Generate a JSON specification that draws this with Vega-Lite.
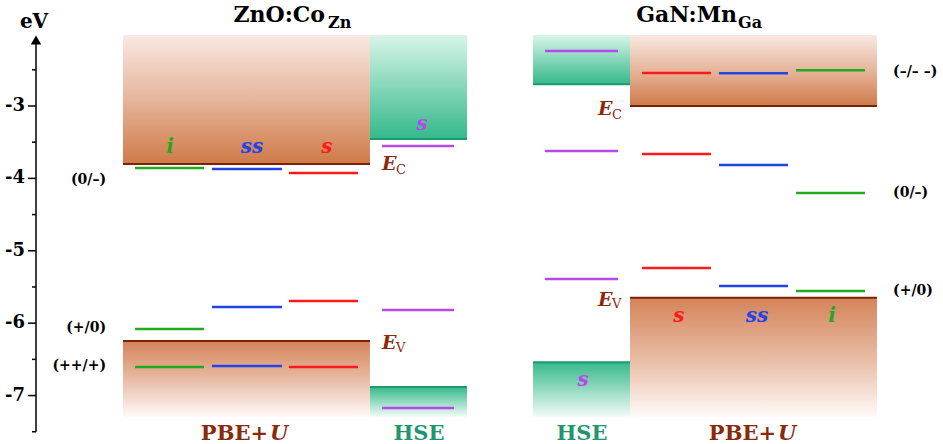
{
  "$schema": "https://vega.github.io/schema/vega-lite/v6.json",
  "width": 907,
  "height": 444,
  "autosize": {"type": "none"},
  "padding": {"left": 36, "top": 0, "right": 0, "bottom": 0},
  "background": "white",
  "config": {"view": {"stroke": null}, "font": "DejaVu Serif"},
  "datasets": {
    "boxes": [
      {"method": "pbe", "band": "up", "x1": 9.59, "x2": 36.82, "top": -2.02, "bot": -3.80},
      {"method": "pbe", "band": "low", "x1": 9.59, "x2": 36.82, "top": -6.246, "bot": -7.296},
      {"method": "hse", "band": "up", "x1": 36.82, "x2": 47.52, "top": -2.02, "bot": -3.456},
      {"method": "hse", "band": "low", "x1": 36.82, "x2": 47.52, "top": -6.88, "bot": -7.296},
      {"method": "hse", "band": "up", "x1": 54.80, "x2": 65.49, "top": -2.02, "bot": -2.70},
      {"method": "hse", "band": "low", "x1": 54.80, "x2": 65.49, "top": -6.54, "bot": -7.296},
      {"method": "pbe", "band": "up", "x1": 65.49, "x2": 92.72, "top": -2.02, "bot": -3.0},
      {"method": "pbe", "band": "low", "x1": 65.49, "x2": 92.72, "top": -5.65, "bot": -7.296}
    ],
    "levels": [
      {"series": "i", "x1": 10.92, "x2": 18.52, "e": -3.856},
      {"series": "i", "x1": 10.92, "x2": 18.52, "e": -6.080},
      {"series": "i", "x1": 10.92, "x2": 18.52, "e": -6.605},
      {"series": "ss", "x1": 19.40, "x2": 27.12, "e": -3.870},
      {"series": "ss", "x1": 19.40, "x2": 27.12, "e": -5.776},
      {"series": "ss", "x1": 19.40, "x2": 27.12, "e": -6.591},
      {"series": "s", "x1": 27.89, "x2": 35.50, "e": -3.925},
      {"series": "s", "x1": 27.89, "x2": 35.50, "e": -5.693},
      {"series": "s", "x1": 27.89, "x2": 35.50, "e": -6.605},
      {"series": "hse", "x1": 38.15, "x2": 46.09, "e": -3.552},
      {"series": "hse", "x1": 38.15, "x2": 46.09, "e": -5.818},
      {"series": "hse", "x1": 38.15, "x2": 46.09, "e": -7.171},
      {"series": "hse", "x1": 56.12, "x2": 64.17, "e": -2.240},
      {"series": "hse", "x1": 56.12, "x2": 64.17, "e": -3.622},
      {"series": "hse", "x1": 56.12, "x2": 64.17, "e": -5.390},
      {"series": "s", "x1": 66.81, "x2": 74.42, "e": -2.544},
      {"series": "s", "x1": 66.81, "x2": 74.42, "e": -3.663},
      {"series": "s", "x1": 66.81, "x2": 74.42, "e": -5.238},
      {"series": "ss", "x1": 75.30, "x2": 82.91, "e": -2.548},
      {"series": "ss", "x1": 75.30, "x2": 82.91, "e": -3.815},
      {"series": "ss", "x1": 75.30, "x2": 82.91, "e": -5.486},
      {"series": "i", "x1": 83.79, "x2": 91.40, "e": -2.507},
      {"series": "i", "x1": 83.79, "x2": 91.40, "e": -4.202},
      {"series": "i", "x1": 83.79, "x2": 91.40, "e": -5.555}
    ],
    "levelLabels": [
      {"series": "i", "t": "i", "x": 14.77, "y": -3.649},
      {"series": "ss", "t": "ss", "x": 23.81, "y": -3.649},
      {"series": "s", "t": "s", "x": 32.08, "y": -3.649},
      {"series": "hse", "t": "s", "x": 42.56, "y": -3.331},
      {"series": "hse", "t": "s", "x": 60.31, "y": -6.867},
      {"series": "s", "t": "s", "x": 70.89, "y": -5.983},
      {"series": "ss", "t": "ss", "x": 79.49, "y": -5.983},
      {"series": "i", "t": "i", "x": 87.76, "y": -5.983}
    ],
    "chargeLeft": [
      {"t": "(0/–)", "x": 7.72, "y": -4.022},
      {"t": "(+/0)", "x": 7.72, "y": -6.066},
      {"t": "(++/+)", "x": 7.72, "y": -6.591}
    ],
    "chargeRight": [
      {"t": "(–/– –)", "x": 94.49, "y": -2.530},
      {"t": "(0/–)", "x": 94.49, "y": -4.202},
      {"t": "(+/0)", "x": 94.49, "y": -5.555}
    ],
    "titles": [
      {"t": "ZnO:Co", "x": 31.86, "y": -1.84},
      {"t": "GaN:Mn", "x": 77.29, "y": -1.84}
    ],
    "titleSubs": [
      {"t": "Zn", "x": 32.19, "y": -1.923},
      {"t": "Ga", "x": 77.40, "y": -1.923}
    ],
    "eLabels": [
      {"t": "E", "x": 38.15, "y": -3.884},
      {"t": "E", "x": 38.15, "y": -6.356},
      {"t": "E", "x": 61.96, "y": -3.124},
      {"t": "E", "x": 61.96, "y": -5.762}
    ],
    "eSubs": [
      {"t": "C", "x": 39.69, "y": -3.939},
      {"t": "V", "x": 39.69, "y": -6.398},
      {"t": "C", "x": 63.51, "y": -3.180},
      {"t": "V", "x": 63.51, "y": -5.790}
    ],
    "pbe": [
      {"t": "PBE+", "x": 25.58, "y": -7.613},
      {"t": "PBE+", "x": 81.59, "y": -7.613}
    ],
    "pbeU": [
      {"t": "U", "x": 25.80, "y": -7.613},
      {"t": "U", "x": 81.81, "y": -7.613}
    ],
    "hseLabels": [
      {"t": "HSE", "x": 42.23, "y": -7.613},
      {"t": "HSE", "x": 60.20, "y": -7.613}
    ],
    "axisLine": [{"x": 0, "y1": -7.5, "y2": -2.1}],
    "majorTicks": [
      {"v": -7, "lab": "-7"}, {"v": -6, "lab": "-6"}, {"v": -5, "lab": "-5"}, {"v": -4, "lab": "-4"}, {"v": -3, "lab": "-3"}
    ],
    "minorTicks": [
      {"v": -7.5}, {"v": -6.5}, {"v": -5.5}, {"v": -4.5}, {"v": -3.5}, {"v": -2.5}
    ],
    "arrow": [{"x": 0, "y": -2.088}],
    "unit": [{"t": "eV", "x": -0.22, "y": -1.923}]
  },
  "layer": [
    {
      "data": {"name": "boxes"},
      "transform": [{"filter": "datum.method === 'pbe' && datum.band === 'up'"}],
      "mark": {"type": "rect", "fill": {"gradient": "linear", "x1": 0, "y1": 0, "x2": 0, "y2": 1, "stops": [{"offset": 0, "color": "#f8e9e2"}, {"offset": 0.5, "color": "#e6b59b"}, {"offset": 1, "color": "#cf7a48"}]}},
      "encoding": {
        "x": {"field": "x1", "type": "quantitative", "scale": {"domain": [0, 100]}, "axis": null},
        "x2": {"field": "x2"},
        "y": {"field": "top", "type": "quantitative", "scale": {"domain": [-7.669, -1.536]}, "axis": null},
        "y2": {"field": "bot"}
      }
    },
    {
      "data": {"name": "boxes"},
      "transform": [{"filter": "datum.method === 'pbe' && datum.band === 'low'"}],
      "mark": {"type": "rect", "fill": {"gradient": "linear", "x1": 0, "y1": 0, "x2": 0, "y2": 1, "stops": [{"offset": 0, "color": "#d4845a"}, {"offset": 0.5, "color": "#e8baa3"}, {"offset": 1, "color": "#fffaf8"}]}},
      "encoding": {
        "x": {"field": "x1", "type": "quantitative", "scale": {"domain": [0, 100]}, "axis": null},
        "x2": {"field": "x2"},
        "y": {"field": "top", "type": "quantitative", "scale": {"domain": [-7.669, -1.536]}, "axis": null},
        "y2": {"field": "bot"}
      }
    },
    {
      "data": {"name": "boxes"},
      "transform": [{"filter": "datum.method === 'hse' && datum.band === 'up'"}],
      "mark": {"type": "rect", "fill": {"gradient": "linear", "x1": 0, "y1": 0, "x2": 0, "y2": 1, "stops": [{"offset": 0, "color": "#d8f5ea"}, {"offset": 1, "color": "#33b98a"}]}},
      "encoding": {
        "x": {"field": "x1", "type": "quantitative", "scale": {"domain": [0, 100]}, "axis": null},
        "x2": {"field": "x2"},
        "y": {"field": "top", "type": "quantitative", "scale": {"domain": [-7.669, -1.536]}, "axis": null},
        "y2": {"field": "bot"}
      }
    },
    {
      "data": {"name": "boxes"},
      "transform": [{"filter": "datum.method === 'hse' && datum.band === 'low'"}],
      "mark": {"type": "rect", "fill": {"gradient": "linear", "x1": 0, "y1": 0, "x2": 0, "y2": 1, "stops": [{"offset": 0, "color": "#36b98b"}, {"offset": 1, "color": "#f2fcf8"}]}},
      "encoding": {
        "x": {"field": "x1", "type": "quantitative", "scale": {"domain": [0, 100]}, "axis": null},
        "x2": {"field": "x2"},
        "y": {"field": "top", "type": "quantitative", "scale": {"domain": [-7.669, -1.536]}, "axis": null},
        "y2": {"field": "bot"}
      }
    },
    {
      "data": {"name": "boxes"},
      "transform": [{"filter": "datum.band === 'up'"}],
      "mark": {"type": "rule", "strokeWidth": 2},
      "encoding": {
        "x": {"field": "x1", "type": "quantitative", "scale": {"domain": [0, 100]}, "axis": null},
        "x2": {"field": "x2"},
        "y": {"field": "bot", "type": "quantitative", "scale": {"domain": [-7.669, -1.536]}, "axis": null},
        "stroke": {"field": "method", "type": "nominal", "scale": {"domain": ["pbe", "hse"], "range": ["#7a2208", "#1e9a70"]}, "legend": null}
      }
    },
    {
      "data": {"name": "boxes"},
      "transform": [{"filter": "datum.band === 'low'"}],
      "mark": {"type": "rule", "strokeWidth": 2},
      "encoding": {
        "x": {"field": "x1", "type": "quantitative", "scale": {"domain": [0, 100]}, "axis": null},
        "x2": {"field": "x2"},
        "y": {"field": "top", "type": "quantitative", "scale": {"domain": [-7.669, -1.536]}, "axis": null},
        "stroke": {"field": "method", "type": "nominal", "scale": {"domain": ["pbe", "hse"], "range": ["#7a2208", "#1e9a70"]}, "legend": null}
      }
    },
    {
      "data": {"name": "levels"},
      "mark": {"type": "rule", "strokeWidth": 2.5},
      "encoding": {
        "x": {"field": "x1", "type": "quantitative", "scale": {"domain": [0, 100]}, "axis": null},
        "x2": {"field": "x2"},
        "y": {"field": "e", "type": "quantitative", "scale": {"domain": [-7.669, -1.536]}, "axis": null},
        "color": {"field": "series", "type": "nominal", "scale": {"domain": ["i", "ss", "s", "hse"], "range": ["#1faa1f", "#2244e6", "#ff1a1a", "#b64ae8"]}, "legend": null}
      }
    },
    {
      "data": {"name": "axisLine"},
      "mark": {"type": "rule", "strokeWidth": 1.5, "color": "black"},
      "encoding": {
        "x": {"field": "x", "type": "quantitative", "scale": {"domain": [0, 100]}, "axis": null},
        "y": {"field": "y1", "type": "quantitative", "scale": {"domain": [-7.669, -1.536]}, "axis": null},
        "y2": {"field": "y2"}
      }
    },
    {
      "data": {"name": "majorTicks"},
      "mark": {"type": "tick", "orient": "horizontal", "size": 8, "thickness": 1.5, "xOffset": -4, "color": "black", "opacity": 1},
      "encoding": {
        "x": {"datum": 0, "type": "quantitative", "scale": {"domain": [0, 100]}, "axis": null},
        "y": {"field": "v", "type": "quantitative", "scale": {"domain": [-7.669, -1.536]}, "axis": null}
      }
    },
    {
      "data": {"name": "minorTicks"},
      "mark": {"type": "tick", "orient": "horizontal", "size": 4, "thickness": 1.5, "xOffset": -2, "color": "black", "opacity": 1},
      "encoding": {
        "x": {"datum": 0, "type": "quantitative", "scale": {"domain": [0, 100]}, "axis": null},
        "y": {"field": "v", "type": "quantitative", "scale": {"domain": [-7.669, -1.536]}, "axis": null}
      }
    },
    {
      "data": {"name": "majorTicks"},
      "mark": {"type": "text", "font": "DejaVu Serif", "fontWeight": "bold", "fontSize": 18, "align": "right", "baseline": "middle", "dx": -11, "color": "black"},
      "encoding": {
        "x": {"datum": 0, "type": "quantitative", "scale": {"domain": [0, 100]}, "axis": null},
        "y": {"field": "v", "type": "quantitative", "scale": {"domain": [-7.669, -1.536]}, "axis": null},
        "text": {"field": "lab"}
      }
    },
    {
      "data": {"name": "arrow"},
      "mark": {"type": "point", "shape": "triangle-up", "filled": true, "color": "black", "size": 110, "opacity": 1},
      "encoding": {
        "x": {"field": "x", "type": "quantitative", "scale": {"domain": [0, 100]}, "axis": null},
        "y": {"field": "y", "type": "quantitative", "scale": {"domain": [-7.669, -1.536]}, "axis": null}
      }
    },
    {
      "data": {"name": "levelLabels"},
      "mark": {"type": "text", "font": "DejaVu Serif", "fontStyle": "italic", "fontWeight": "bold", "fontSize": 20, "align": "center", "baseline": "alphabetic"},
      "encoding": {
        "x": {"field": "x", "type": "quantitative", "scale": {"domain": [0, 100]}, "axis": null},
        "y": {"field": "y", "type": "quantitative", "scale": {"domain": [-7.669, -1.536]}, "axis": null},
        "text": {"field": "t"},
        "color": {"field": "series", "type": "nominal", "scale": {"domain": ["i", "ss", "s", "hse"], "range": ["#1faa1f", "#2244e6", "#ff1a1a", "#b64ae8"]}, "legend": null}
      }
    },
    {
      "data": {"name": "chargeLeft"},
      "mark": {"type": "text", "font": "DejaVu Serif", "fontWeight": "bold", "fontSize": 14, "align": "right", "baseline": "middle", "color": "black"},
      "encoding": {
        "x": {"field": "x", "type": "quantitative", "scale": {"domain": [0, 100]}, "axis": null},
        "y": {"field": "y", "type": "quantitative", "scale": {"domain": [-7.669, -1.536]}, "axis": null},
        "text": {"field": "t"}
      }
    },
    {
      "data": {"name": "chargeRight"},
      "mark": {"type": "text", "font": "DejaVu Serif", "fontWeight": "bold", "fontSize": 14, "align": "left", "baseline": "middle", "color": "black"},
      "encoding": {
        "x": {"field": "x", "type": "quantitative", "scale": {"domain": [0, 100]}, "axis": null},
        "y": {"field": "y", "type": "quantitative", "scale": {"domain": [-7.669, -1.536]}, "axis": null},
        "text": {"field": "t"}
      }
    },
    {
      "data": {"name": "titles"},
      "mark": {"type": "text", "font": "DejaVu Serif", "fontWeight": "bold", "fontSize": 22, "align": "right", "baseline": "alphabetic", "color": "black"},
      "encoding": {
        "x": {"field": "x", "type": "quantitative", "scale": {"domain": [0, 100]}, "axis": null},
        "y": {"field": "y", "type": "quantitative", "scale": {"domain": [-7.669, -1.536]}, "axis": null},
        "text": {"field": "t"}
      }
    },
    {
      "data": {"name": "titleSubs"},
      "mark": {"type": "text", "font": "DejaVu Serif", "fontWeight": "bold", "fontSize": 16, "align": "left", "baseline": "alphabetic", "color": "black"},
      "encoding": {
        "x": {"field": "x", "type": "quantitative", "scale": {"domain": [0, 100]}, "axis": null},
        "y": {"field": "y", "type": "quantitative", "scale": {"domain": [-7.669, -1.536]}, "axis": null},
        "text": {"field": "t"}
      }
    },
    {
      "data": {"name": "eLabels"},
      "mark": {"type": "text", "font": "DejaVu Serif", "fontWeight": "bold", "fontStyle": "italic", "fontSize": 19, "align": "left", "baseline": "alphabetic", "color": "#8a2a0c"},
      "encoding": {
        "x": {"field": "x", "type": "quantitative", "scale": {"domain": [0, 100]}, "axis": null},
        "y": {"field": "y", "type": "quantitative", "scale": {"domain": [-7.669, -1.536]}, "axis": null},
        "text": {"field": "t"}
      }
    },
    {
      "data": {"name": "eSubs"},
      "mark": {"type": "text", "font": "DejaVu Serif", "fontSize": 13, "align": "left", "baseline": "alphabetic", "color": "#8a2a0c"},
      "encoding": {
        "x": {"field": "x", "type": "quantitative", "scale": {"domain": [0, 100]}, "axis": null},
        "y": {"field": "y", "type": "quantitative", "scale": {"domain": [-7.669, -1.536]}, "axis": null},
        "text": {"field": "t"}
      }
    },
    {
      "data": {"name": "pbe"},
      "mark": {"type": "text", "font": "DejaVu Serif", "fontWeight": "bold", "fontSize": 21, "align": "right", "baseline": "alphabetic", "color": "#8a2a0c"},
      "encoding": {
        "x": {"field": "x", "type": "quantitative", "scale": {"domain": [0, 100]}, "axis": null},
        "y": {"field": "y", "type": "quantitative", "scale": {"domain": [-7.669, -1.536]}, "axis": null},
        "text": {"field": "t"}
      }
    },
    {
      "data": {"name": "pbeU"},
      "mark": {"type": "text", "font": "DejaVu Serif", "fontWeight": "bold", "fontStyle": "italic", "fontSize": 21, "align": "left", "baseline": "alphabetic", "color": "#8a2a0c"},
      "encoding": {
        "x": {"field": "x", "type": "quantitative", "scale": {"domain": [0, 100]}, "axis": null},
        "y": {"field": "y", "type": "quantitative", "scale": {"domain": [-7.669, -1.536]}, "axis": null},
        "text": {"field": "t"}
      }
    },
    {
      "data": {"name": "hseLabels"},
      "mark": {"type": "text", "font": "DejaVu Serif", "fontWeight": "bold", "fontSize": 21, "align": "center", "baseline": "alphabetic", "color": "#1e9670"},
      "encoding": {
        "x": {"field": "x", "type": "quantitative", "scale": {"domain": [0, 100]}, "axis": null},
        "y": {"field": "y", "type": "quantitative", "scale": {"domain": [-7.669, -1.536]}, "axis": null},
        "text": {"field": "t"}
      }
    },
    {
      "data": {"name": "unit"},
      "mark": {"type": "text", "font": "DejaVu Serif", "fontWeight": "bold", "fontSize": 20, "align": "center", "baseline": "alphabetic", "color": "black"},
      "encoding": {
        "x": {"field": "x", "type": "quantitative", "scale": {"domain": [0, 100]}, "axis": null},
        "y": {"field": "y", "type": "quantitative", "scale": {"domain": [-7.669, -1.536]}, "axis": null},
        "text": {"field": "t"}
      }
    }
  ]
}
